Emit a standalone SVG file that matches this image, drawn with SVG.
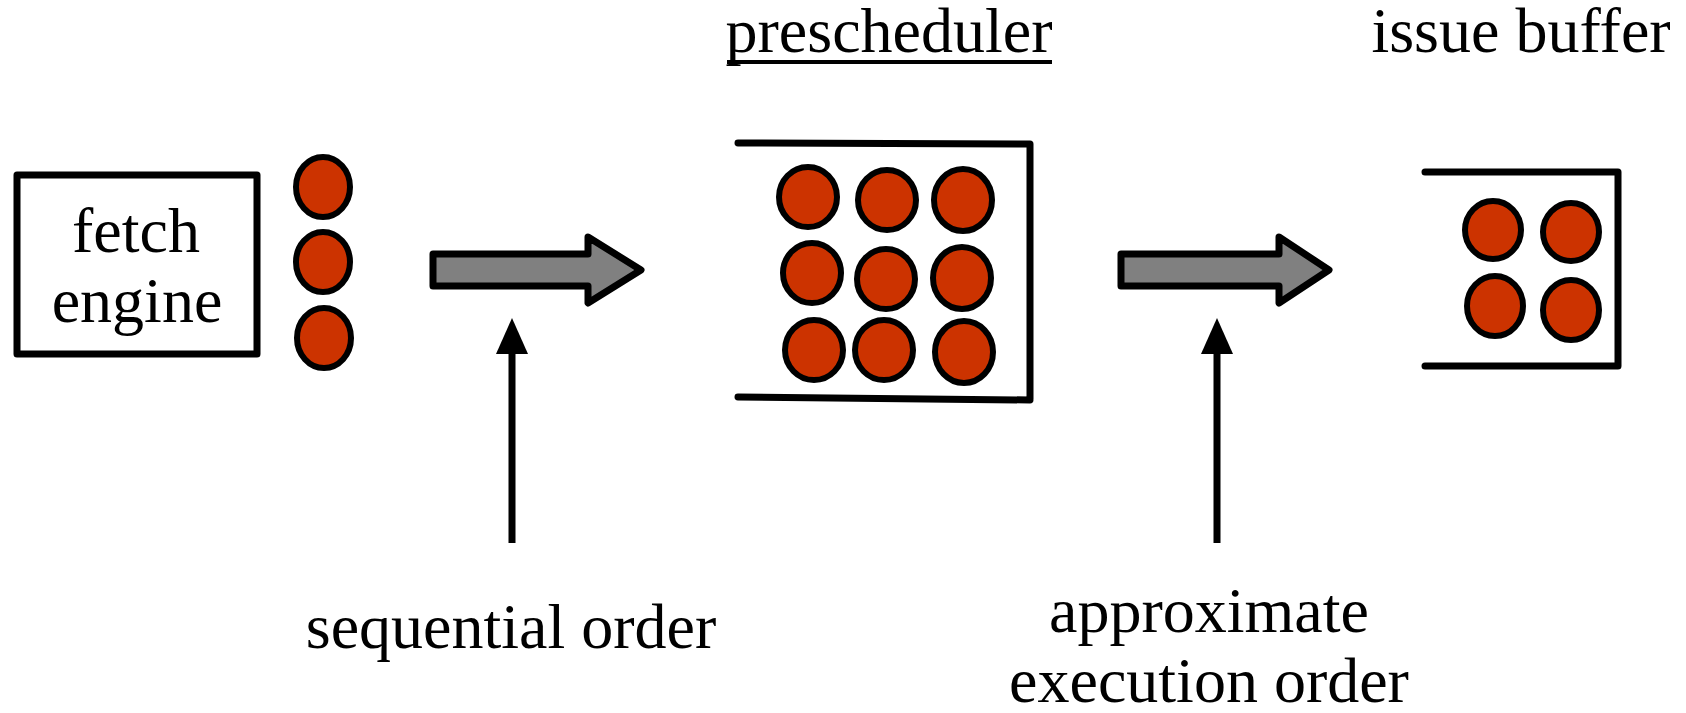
<svg xmlns="http://www.w3.org/2000/svg" width="1686" height="713" viewBox="0 0 1686 713">
<style>
text{font-family:"Liberation Serif","Times New Roman",serif;font-size:64px;fill:#000;text-anchor:middle}
.tok{fill:#CC3300;stroke:#000;stroke-width:6}
.wall{fill:none;stroke:#000;stroke-width:7;stroke-linecap:round;stroke-linejoin:round}
.big{fill:#808080;stroke:#000;stroke-width:7;stroke-linejoin:round}
.up{stroke:#000;stroke-width:7;fill:none}
</style>
<rect width="1686" height="713" fill="#fff"/>
<g id="fetch-engine">
<rect x="17" y="175" width="240" height="179" fill="#fff" stroke="#000" stroke-width="7" stroke-linejoin="round"/>
<text x="136" y="252">fetch</text>
<text x="137" y="322">engine</text>
</g>
<g id="fetched-instructions">
<ellipse class="tok" cx="323" cy="187" rx="27" ry="30"/>
<ellipse class="tok" cx="323" cy="262" rx="27" ry="30"/>
<ellipse class="tok" cx="324" cy="338" rx="27" ry="30"/>
</g>
<g id="prescheduler">
<text x="889" y="52">prescheduler</text>
<rect x="727" y="60" width="325" height="4" fill="#000"/>
<path class="wall" d="M738,143 L1030,144 L1030,399 M738,397 L1030,400"/>
<ellipse class="tok" cx="808" cy="197" rx="29" ry="30"/>
<ellipse class="tok" cx="887" cy="200" rx="29" ry="30"/>
<ellipse class="tok" cx="963" cy="200" rx="29" ry="31"/>
<ellipse class="tok" cx="812" cy="273" rx="29" ry="30"/>
<ellipse class="tok" cx="886" cy="279" rx="29" ry="30"/>
<ellipse class="tok" cx="962" cy="278" rx="29" ry="31"/>
<ellipse class="tok" cx="814" cy="350" rx="29" ry="30"/>
<ellipse class="tok" cx="884" cy="350" rx="29" ry="30"/>
<ellipse class="tok" cx="964" cy="352" rx="29" ry="31"/>
</g>
<g id="issue-buffer">
<text x="1521" y="52">issue buffer</text>
<path class="wall" d="M1425,172 L1618,172 L1618,366 L1425,366"/>
<ellipse class="tok" cx="1493" cy="230" rx="28" ry="29"/>
<ellipse class="tok" cx="1571" cy="232" rx="28" ry="29"/>
<ellipse class="tok" cx="1495" cy="306" rx="28" ry="30"/>
<ellipse class="tok" cx="1571" cy="310" rx="28" ry="30"/>
</g>
<g id="label-sequential">
<text x="511" y="648">sequential order</text>
</g>
<g id="label-approximate">
<text x="1209" y="632">approximate</text>
<text x="1209" y="702">execution order</text>
</g>
<g id="connectors">
<polygon class="big" points="433,254 588,254 588,237 641,270 588,303 588,286 433,286"/>
<polygon class="big" points="1121,254 1279,254 1279,237 1329,270 1279,303 1279,286 1121,286"/>
<line class="up" x1="512" y1="350" x2="512" y2="543"/>
<polygon points="512,318 496,354 528,354" fill="#000"/>
<line class="up" x1="1217" y1="350" x2="1217" y2="543"/>
<polygon points="1217,318 1201,354 1233,354" fill="#000"/>
</g>
</svg>
